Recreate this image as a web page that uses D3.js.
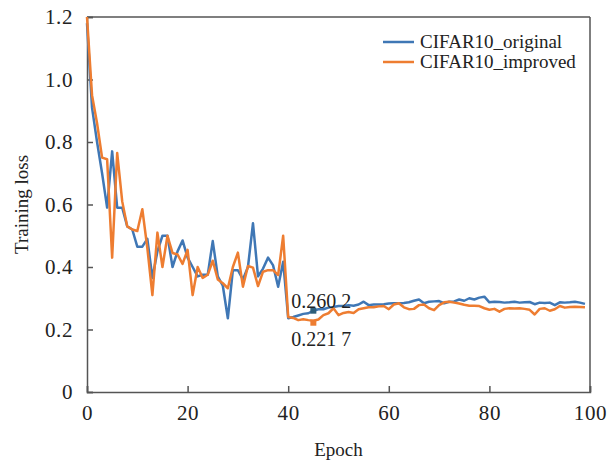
<!DOCTYPE html>
<html>
<head>
<meta charset="utf-8">
<script src="https://cdn.jsdelivr.net/npm/d3@7"></script>
<style>
  body { margin: 0; background: #fff; }
  svg { display: block; }
  text { font-family: "Liberation Serif", "Times New Roman", serif; fill: #222; }
</style>
</head>
<body>
<svg id="chart"></svg>
<script>
const width = 616;
const height = 461;

// epochs 0..99
const epochs = d3.range(0, 100);

const original = [
  1.18, 0.91, 0.80, 0.70, 0.59, 0.77, 0.59, 0.59, 0.53, 0.52,
  0.465, 0.465, 0.49, 0.365, 0.45, 0.50, 0.50, 0.40, 0.45, 0.485,
  0.43, 0.40, 0.37, 0.375, 0.375, 0.483, 0.37, 0.34, 0.236, 0.39,
  0.39, 0.36, 0.40, 0.54, 0.37, 0.395, 0.43, 0.405, 0.337, 0.417,
  0.236, 0.24, 0.245, 0.25, 0.252, 0.2602, 0.265, 0.265, 0.27, 0.272,
  0.275, 0.275, 0.278, 0.276, 0.28, 0.289, 0.278, 0.28, 0.28, 0.281,
  0.283, 0.284, 0.284, 0.285, 0.287, 0.292, 0.296, 0.284, 0.289, 0.29,
  0.291, 0.284, 0.289, 0.29, 0.296, 0.292, 0.30, 0.296, 0.302, 0.305,
  0.287, 0.289, 0.288, 0.286, 0.287, 0.289, 0.286, 0.287, 0.288, 0.281,
  0.286, 0.285, 0.286, 0.278, 0.287, 0.286, 0.287, 0.289, 0.286, 0.282
];

const improved = [
  1.20, 0.95, 0.86, 0.75, 0.745, 0.43, 0.765, 0.61, 0.53, 0.52,
  0.515, 0.585, 0.46, 0.31, 0.51, 0.40, 0.50, 0.445, 0.44, 0.41,
  0.455, 0.31, 0.40, 0.365, 0.375, 0.42, 0.36, 0.348, 0.332, 0.40,
  0.446, 0.337, 0.403, 0.398, 0.339, 0.385, 0.39, 0.39, 0.374, 0.50,
  0.24, 0.237, 0.23, 0.233, 0.23, 0.228, 0.232, 0.246, 0.252, 0.268,
  0.246, 0.253, 0.256, 0.253, 0.265, 0.268, 0.271, 0.271, 0.274, 0.275,
  0.265, 0.28, 0.284, 0.271, 0.265, 0.266, 0.278, 0.28, 0.268, 0.262,
  0.278, 0.287, 0.289, 0.286, 0.283, 0.279, 0.276, 0.276, 0.275, 0.268,
  0.263, 0.266, 0.257, 0.266, 0.268, 0.267, 0.268, 0.266, 0.263, 0.248,
  0.266, 0.268, 0.26, 0.265, 0.275, 0.27, 0.272, 0.273, 0.272, 0.271
];

const seriesNames = ["CIFAR10_original", "CIFAR10_improved"];
const seriesColors = ["#3f77b5", "#ee7d31"];

// marked points
const markEpoch = 45;
const markValues = [0.2602, 0.2217];
const markLabels = ["0.260 2", "0.221 7"];
const markColors = ["#2e5f7a", "#ee7d31"];

const xTicks = [0, 20, 40, 60, 80, 100];
const yTicks = [0, 0.2, 0.4, 0.6, 0.8, 1.0, 1.2];

const margin = { top: 17, right: 26, bottom: 69, left: 87 };
const innerW = width - margin.left - margin.right;
const innerH = height - margin.top - margin.bottom;

const svg = d3.select("#chart")
    .attr("width", width)
    .attr("height", height);

const g = svg.append("g")
    .attr("transform", `translate(${margin.left},${margin.top})`);

const x = d3.scaleLinear().domain([0, 100]).range([0, innerW]);
const y = d3.scaleLinear().domain([0, 1.2]).range([innerH, 0]);

const axisColor = "#555";

// x axis, ticks pointing inward
const xAxis = g.append("g")
    .attr("transform", `translate(0,${innerH})`)
    .call(d3.axisBottom(x).tickValues(xTicks).tickSize(-6).tickPadding(13)
        .tickFormat(d3.format("d")));

const yAxis = g.append("g")
    .call(d3.axisLeft(y).tickValues(yTicks).tickSize(-6).tickPadding(14)
        .tickFormat(d => d === 0 ? "0" : d3.format(".1f")(d)));

[xAxis, yAxis].forEach(a => {
    a.attr("font-family", "'Liberation Serif', serif").attr("font-size", 21);
    a.select(".domain").attr("stroke", axisColor).attr("stroke-width", 1.5);
    a.selectAll(".tick line").attr("stroke", axisColor).attr("stroke-width", 1.5);
    a.selectAll(".tick text")
        .style("font-family", "'Liberation Serif', serif")
        .style("font-size", "21px")
        .style("letter-spacing", "0.6px")
        .attr("fill", "#222");
});

// frame top and right
g.append("line")
    .attr("x1", 0).attr("x2", innerW).attr("y1", 0).attr("y2", 0)
    .attr("stroke", axisColor).attr("stroke-width", 1.5);
g.append("line")
    .attr("x1", innerW).attr("x2", innerW).attr("y1", 0).attr("y2", innerH)
    .attr("stroke", axisColor).attr("stroke-width", 1.5);

const line = d3.line()
    .x((d, i) => x(epochs[i]))
    .y(d => y(d));

[original, improved].forEach((vals, k) => {
    g.append("path")
        .datum(vals)
        .attr("fill", "none")
        .attr("stroke", seriesColors[k])
        .attr("stroke-width", 2.5)
        .attr("stroke-linejoin", "round")
        .attr("d", line);
});

// markers + labels
markValues.forEach((v, k) => {
    g.append("rect")
        .attr("x", x(markEpoch) - 3)
        .attr("y", y(v) - 3)
        .attr("width", 6)
        .attr("height", 6)
        .attr("fill", markColors[k]);
});
g.append("text")
    .attr("x", x(40) + 3)
    .attr("y", y(markValues[0]) - 3)
    .style("font-size", "20px")
    .text(markLabels[0]);
g.append("text")
    .attr("x", x(40) + 3)
    .attr("y", y(markValues[1]) + 23)
    .style("font-size", "20px")
    .text(markLabels[1]);

// legend
const legend = g.append("g").attr("transform", `translate(${383 - margin.left},${42 - margin.top})`);
seriesNames.forEach((name, k) => {
    const row = legend.append("g").attr("transform", `translate(0,${k * 20})`);
    row.append("line")
        .attr("x1", 0).attr("x2", 31).attr("y1", 0).attr("y2", 0)
        .attr("stroke", seriesColors[k]).attr("stroke-width", 2.5);
    row.append("text")
        .attr("x", 37).attr("y", 6)
        .style("font-size", "19px")
        .text(name);
});

// axis titles
svg.append("text")
    .attr("x", margin.left + innerW / 2)
    .attr("y", 456)
    .attr("text-anchor", "middle")
    .style("font-size", "19px")
    .text("Epoch");

svg.append("text")
    .attr("transform", `translate(28,${margin.top + innerH / 2}) rotate(-90)`)
    .attr("text-anchor", "middle")
    .style("font-size", "19px")
    .text("Training loss");
</script>
</body>
</html>
